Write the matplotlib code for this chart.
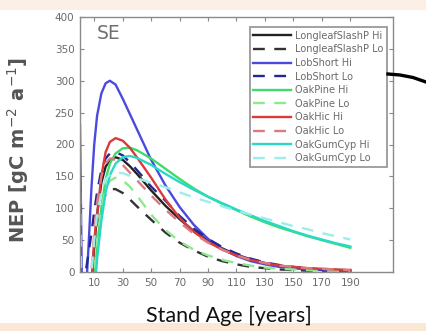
import matplotlib
matplotlib.use("Agg")
import matplotlib.pyplot as plt
from matplotlib.patches import Rectangle
from matplotlib.lines import Line2D

# ---------------- data ----------------
ages = [0, 2, 4, 6, 8, 10, 12, 15, 18, 21, 25, 30, 35, 40, 50, 60, 70, 80, 90,
        100, 110, 120, 130, 140, 150, 160, 170, 180, 190]

longleaf_hi = [-300, -220, -150, -80, -20, 40, 90, 140, 165, 176, 180, 176, 166, 154, 128, 104, 83, 64, 49,
               37, 27, 20, 14, 10, 7, 5, 4, 3, 2]
longleaf_lo = [-300, -230, -160, -100, -40, 20, 60, 100, 122, 130, 130, 124, 114, 103, 82, 62, 46, 34, 24,
               17, 12, 8, 6, 4, 3, 2, 2, 1, 1]
lobshort_hi = [230, -150, -40, 40, 130, 200, 245, 280, 296, 300, 294, 272, 248, 224, 176, 136, 102, 74, 52,
               36, 25, 17, 12, 8, 6, 4, 3, 2, 2]
lobshort_lo = [-200, -100, 0, 30, 60, 95, 125, 160, 178, 186, 188, 183, 172, 160, 134, 112, 88, 68, 52,
               39, 29, 21, 15, 11, 8, 6, 4, 3, 3]
oakpine_hi = [-300, -260, -210, -150, -80, -20, 40, 100, 145, 170, 186, 194, 195, 191, 178, 162, 146, 131, 118,
              107, 97, 87, 78, 70, 63, 56, 50, 44, 38]
oakpine_lo = [-300, -250, -190, -120, -60, 0, 50, 100, 130, 143, 148, 144, 134, 120, 90, 66, 48, 35, 26,
              19, 14, 10, 7, 5, 4, 3, 2, 2, 1]
oakhic_hi = [-300, -250, -180, -100, -20, 50, 90, 150, 188, 204, 210, 206, 195, 180, 148, 114, 85, 63, 47,
             35, 26, 19, 14, 10, 8, 6, 5, 4, 3]
oakhic_lo = [-250, -200, -150, -80, 0, 60, 110, 150, 170, 178, 176, 168, 156, 144, 120, 98, 78, 60, 46,
             35, 26, 19, 14, 10, 8, 6, 5, 4, 3]
oakgumcyp_hi = [-300, -260, -220, -200, -120, -40, 20, 80, 125, 152, 170, 180, 182, 179, 168, 154, 141, 129, 118,
                108, 98, 89, 80, 72, 64, 57, 51, 45, 40]
oakgumcyp_lo = [125, -200, -140, -80, 0, 50, 90, 125, 145, 153, 156, 155, 151, 147, 140, 133, 125, 117, 110,
                103, 96, 90, 84, 78, 72, 67, 61, 56, 51]

labels = ["LongleafSlashP Hi", "LongleafSlashP Lo", "LobShort Hi", "LobShort Lo",
          "OakPine Hi", "OakPine Lo", "OakHic Hi", "OakHic Lo",
          "OakGumCyp Hi", "OakGumCyp Lo"]
series = [longleaf_hi, longleaf_lo, lobshort_hi, lobshort_lo, oakpine_hi, oakpine_lo,
          oakhic_hi, oakhic_lo, oakgumcyp_hi, oakgumcyp_lo]
colors = ["#222222", "#333333", "#4a4ae0", "#262690", "#3ddc6a", "#8fe88f",
          "#dc3a3a", "#dc7a80", "#2ad8c8", "#9ceee8"]
styles = ["-", "--", "-", "--", "-", "--", "-", "--", "-", "--"]

xticks = [10, 30, 50, 70, 90, 110, 130, 150, 170, 190]
yticks = [0, 50, 100, 150, 200, 250, 300, 350, 400]

# ---------------- figure ----------------
W, H = 426, 331
fig = plt.figure(figsize=(W / 100, H / 100), dpi=100)
fig.patch.set_facecolor("white")

# slide background bands
fig.patches.append(Rectangle((0, 1 - 10 / H), 1, 10 / H, transform=fig.transFigure,
                             facecolor="#fcefe5", edgecolor="none", zorder=0))
fig.patches.append(Rectangle((0, 0), 1, 8 / H, transform=fig.transFigure,
                             facecolor="#fbe7d6", edgecolor="none", zorder=0))

ax = fig.add_axes([80 / W, 1 - 272 / H, 313 / W, 255 / H])
ax.set_facecolor("white")

for vals, lab, c, ls in zip(series, labels, colors, styles):
    if ls == "--":
        ax.plot(ages, vals, color=c, ls=ls, lw=1.7, dashes=(5, 4), label=lab)
    else:
        ax.plot(ages, vals, color=c, ls=ls, lw=1.7, label=lab)

ax.set_xlim(0, 220)
ax.set_ylim(0, 400)
ax.set_xticks(xticks)
ax.set_yticks(yticks)
ax.tick_params(direction="in", length=3, width=0.8, colors="#888888",
               labelcolor="#6a6a6a", labelsize=7.5, top=True, right=True, pad=4)
for s in ax.spines.values():
    s.set_color("#8a8a8a")
    s.set_linewidth(1.0)

ax.text(0.054, 0.972, "SE", transform=ax.transAxes, ha="left", va="top",
        fontsize=13.5, color="#707070")

leg = ax.legend(loc="upper right", bbox_to_anchor=(0.981, 0.961), borderaxespad=0,
                fontsize=7, labelspacing=0.37, handlelength=3.9, handletextpad=0.35,
                borderpad=0.4, fancybox=False, framealpha=1, edgecolor="#9a9a9a")
leg.get_frame().set_linewidth(1.3)
for t in leg.get_texts():
    t.set_color("#6a6a6a")

fig.text(18 / W, 1 - 150 / H, "NEP [gC m$^{-2}$ a$^{-1}$]", rotation=90,
         ha="center", va="center", fontsize=14, fontweight="bold", color="#555555")

fig.text(229 / W, 1 - 316 / H, "Stand Age [years]", ha="center", va="center",
         fontsize=15.5, family="Lato", color="#111111")

# decorative connector line on the right of the slide
fig.add_artist(Line2D([388 / W, 400 / W, 413 / W, 426 / W],
                      [1 - 74 / H, 1 - 75 / H, 1 - 77.5 / H, 1 - 82 / H],
                      transform=fig.transFigure, color="black", lw=2.4))

fig.savefig("out.png", dpi=100)
